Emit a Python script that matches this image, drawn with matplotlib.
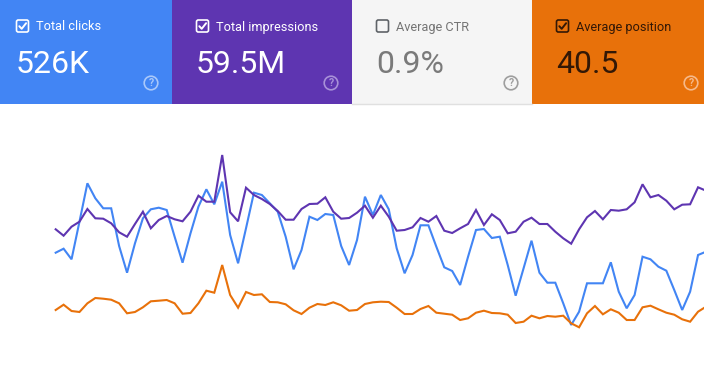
import numpy as np
import matplotlib.pyplot as plt
from matplotlib.patches import Rectangle, Circle, FancyBboxPatch

plt.rcParams['font.family'] = ['Roboto', 'DejaVu Sans']

# summary cards along the top
card_labels = ["Total clicks", "Total impressions", "Average CTR", "Average position"]
card_values = ["526K", "59.5M", "0.9%", "40.5"]
card_checked = [True, True, False, True]

# daily series (each metric on its own hidden scale,
# here given as height above the bottom of the chart area)
clicks = [112.3, 116.3, 105.7, 143.3, 181.7, 166.7, 156.7, 156.7, 119.0, 92.3,
          121.7, 146.7, 155.7, 157.3, 155.0, 128.3, 102.3, 131.7, 158.3, 175.7,
          160.7, 183.3, 130.0, 101.7, 136.7, 172.3, 170.0, 161.7, 153.3, 128.3,
          95.7, 115.0, 148.3, 145.0, 151.0, 150.0, 119.0, 100.0, 125.0, 168.3,
          150.0, 170.0, 155.7, 116.7, 91.7, 110.0, 139.7, 139.7, 118.3, 97.7,
          94.0, 80.0, 108.3, 135.0, 136.0, 127.0, 128.3, 100.0, 69.3, 96.7,
          124.3, 92.3, 82.3, 82.3, 61.7, 40.0, 53.3, 81.7, 81.7, 81.7,
          102.7, 73.3, 56.7, 70.0, 108.3, 105.7, 98.3, 94.3, 75.0, 55.0,
          73.3, 110.0, 113.3]
impressions = [135.7, 129.3, 138.3, 143.3, 156.0, 146.7, 146.3, 141.7, 132.7, 128.3,
               141.0, 153.3, 136.7, 145.0, 149.0, 145.7, 143.7, 153.3, 169.3, 163.3,
               163.3, 210.0, 152.7, 143.7, 177.3, 170.0, 166.0, 161.0, 154.0, 145.3,
               145.3, 156.0, 161.0, 161.3, 167.7, 153.3, 146.3, 147.0, 152.3, 159.3,
               147.3, 159.3, 148.3, 134.3, 135.0, 137.7, 147.0, 143.3, 149.0, 134.3,
               132.0, 136.7, 141.0, 155.0, 140.0, 150.7, 145.0, 131.7, 133.3, 143.3,
               147.3, 141.0, 141.0, 133.3, 126.7, 121.3, 135.7, 147.7, 154.0, 145.7,
               155.0, 154.3, 155.7, 162.7, 180.7, 167.7, 170.0, 164.3, 155.7, 160.3,
               160.7, 177.7, 174.3]
position = [55.0, 60.3, 54.0, 53.0, 61.7, 67.0, 66.3, 65.3, 61.7, 51.7,
            53.0, 57.7, 63.7, 64.3, 65.0, 61.7, 51.3, 52.0, 61.7, 74.3,
            72.3, 100.0, 70.0, 57.3, 73.0, 70.0, 70.7, 63.0, 62.7, 60.7,
            54.7, 51.0, 57.3, 61.0, 60.0, 62.7, 59.7, 54.3, 55.0, 61.0,
            62.7, 63.3, 63.0, 57.3, 51.0, 51.0, 56.0, 59.0, 52.3, 51.3,
            50.3, 45.0, 46.7, 52.3, 54.3, 52.0, 51.7, 50.3, 42.0, 43.3,
            49.3, 46.7, 49.0, 48.3, 49.3, 41.7, 37.7, 51.7, 59.0, 50.7,
            55.7, 52.3, 45.0, 45.0, 57.7, 59.3, 55.7, 52.3, 50.3, 45.7,
            43.3, 53.3, 58.3]

days = np.arange(len(clicks))

W, H = 704, 365
fig = plt.figure(figsize=(W / 100, H / 100), dpi=100)

# chart area (white, below the cards)
ax = fig.add_axes([0, 0, 1, 261 / H])
ax.plot(days, clicks, color='#4285f4', lw=1.5, solid_joinstyle='miter')
ax.plot(days, impressions, color='#5e35b1', lw=1.5, solid_joinstyle='miter')
ax.plot(days, position, color='#e8710a', lw=1.5, solid_joinstyle='miter')
ax.set_xlim(-7.02, 81.75)
ax.set_ylim(0, 261)
ax.axis('off')

# cards drawn in pixel coordinates on an overlay
top = fig.add_axes([0, 0, 1, 1])
top.set_xlim(0, W)
top.set_ylim(H, 0)
top.axis('off')
top.patch.set_alpha(0)

bg_cols = ['#4285f4', '#5e35b1', '#f5f5f5', '#e8710a']
txt_cols = ['white', 'white', '#757575', '#331806']
num_cols = ['white', 'white', '#7a7a7a', '#331806']
box_cols = ['white', 'white', '#5f6368', '#331806']
help_cols = ['#a9c8fa', '#a891d8', '#9e9e9e', '#f6b98a']

card_w = 180
for k in range(len(card_labels)):
    left = -8 + k * card_w
    top.add_patch(Rectangle((left, 0), card_w, 104, facecolor=bg_cols[k], edgecolor='none'))
    bx = left + 24.5
    top.add_patch(FancyBboxPatch((bx, 20), 12, 12, boxstyle='round,pad=0,rounding_size=1.8',
                                 facecolor='none', edgecolor=box_cols[k], lw=1.2))
    if card_checked[k]:
        top.plot([bx + 2.8, bx + 5.2, bx + 9.6], [26.2, 28.8, 23.2],
                 color=box_cols[k], lw=1.4, solid_capstyle='round')
    top.text(bx + 19.5, 30.5, card_labels[k], color=txt_cols[k], fontsize=9.2,
             va='baseline', ha='left')
    top.text(left + 24, 73, card_values[k], color=num_cols[k], fontsize=23,
             va='baseline', ha='left')
    hx = left + 159
    top.add_patch(Circle((hx, 83), 6.8, facecolor='none', edgecolor=help_cols[k], lw=1.2))
    top.text(hx, 83.5, "?", color=help_cols[k], fontsize=7.5, ha='center', va='center',
             fontweight='bold')

top.plot([352, 532], [103.5, 103.5], color='#e0e0e0', lw=1)

fig.savefig('out.png', dpi=100)
